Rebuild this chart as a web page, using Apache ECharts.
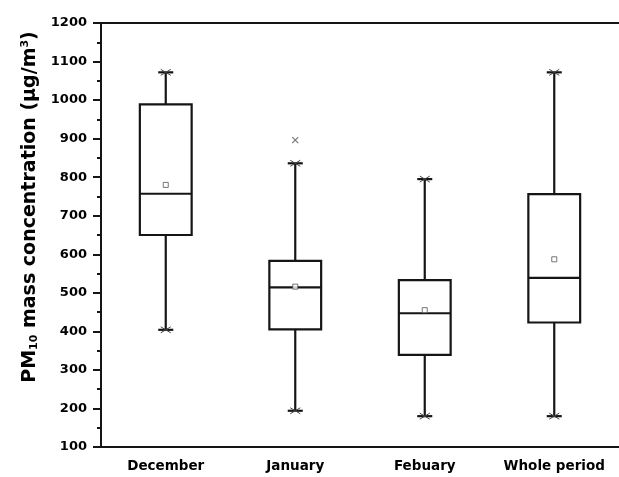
<!DOCTYPE html>
<html>
<head>
<meta charset="utf-8">
<script src="https://cdn.jsdelivr.net/npm/echarts@6/dist/echarts.min.js"></script>
<style>
  html, body { margin: 0; padding: 0; background: #fff; }
  #chart { width: 619px; height: 477px; }
</style>
</head>
<body>
<div id="chart"></div>
<script>
var categories = ["December", "January", "Febuary", "Whole period"];
var minVals = [404, 194, 180, 180];
var q1Vals = [650, 405, 339, 423];
var medianVals = [757, 514, 447, 539];
var q3Vals = [989, 583, 533, 756];
var maxVals = [1072, 836, 795, 1072];
var meanVals = [780, 516, 455, 587];
var outliers = [[1, 896]];

var ink = "#151515";
var font = "DejaVu Sans";

var boxData = categories.map(function(c, i) {
  return [i, minVals[i], q1Vals[i], medianVals[i], q3Vals[i], maxVals[i]];
});
var meanData = categories.map(function(c, i) {
  return [i, meanVals[i]];
});

function renderBox(params, api) {
  var i = api.value(0);
  var band = api.size([1, 0])[0];
  var half = band * 0.2;
  var cap = band * 0.058;
  var pMin = api.coord([i, api.value(1)]);
  var pQ1 = api.coord([i, api.value(2)]);
  var pMed = api.coord([i, api.value(3)]);
  var pQ3 = api.coord([i, api.value(4)]);
  var pMax = api.coord([i, api.value(5)]);
  var x = pMed[0];
  var strong = { stroke: ink, lineWidth: 2.2, fill: null };
  var thin = { stroke: "#444", lineWidth: 1 };
  function line(x1, y1, x2, y2, style) {
    return { type: "line", shape: { x1: x1, y1: y1, x2: x2, y2: y2 }, style: style };
  }
  function cross(y) {
    return [
      line(x - 5, y - 3, x + 5, y + 3, thin),
      line(x - 5, y + 3, x + 5, y - 3, thin)
    ];
  }
  var children = [
    { type: "rect", shape: { x: x - half, y: pQ3[1], width: half * 2, height: pQ1[1] - pQ3[1] }, style: strong },
    line(x - half, pMed[1], x + half, pMed[1], strong),
    line(x, pQ3[1], x, pMax[1], strong),
    line(x, pQ1[1], x, pMin[1], strong),
    line(x - cap, pMax[1], x + cap, pMax[1], strong),
    line(x - cap, pMin[1], x + cap, pMin[1], strong)
  ];
  children = children.concat(cross(pMax[1]), cross(pMin[1]));
  return { type: "group", children: children };
}

var chart = echarts.init(document.getElementById("chart"));

chart.setOption({
  animation: false,
  backgroundColor: "#fff",
  grid: { left: 101, top: 23, width: 527, height: 424 },
  xAxis: [
    {
      type: "category",
      data: categories,
      axisLine: { lineStyle: { color: ink, width: 2 } },
      axisTick: { alignWithLabel: true, length: 8, lineStyle: { color: ink, width: 2 } },
      axisLabel: { interval: 0, color: "#000", fontFamily: font, fontWeight: "bold", fontSize: 13.5, margin: 12 },
      splitLine: { show: false }
    },
    {
      type: "category",
      position: "top",
      data: categories,
      axisLine: { lineStyle: { color: ink, width: 2 } },
      axisTick: { show: false },
      axisLabel: { show: false }
    }
  ],
  yAxis: {
    type: "value",
    min: 100,
    max: 1200,
    interval: 100,
    name: "{b|PM}{sub|10}{b| mass concentration (μg/m}{sup|3}{b|)}",
    nameLocation: "middle",
    nameGap: 44,
    nameTextStyle: {
      padding: [0, 0, 0, 56],
      rich: {
        b: { fontFamily: font, fontWeight: "bold", fontSize: 19, color: "#000" },
        sub: { fontFamily: font, fontWeight: "bold", fontSize: 11, color: "#000", verticalAlign: "bottom", padding: [9, 0, 0, 0] },
        sup: { fontFamily: font, fontWeight: "bold", fontSize: 11, color: "#000", verticalAlign: "top", padding: [0, 0, 9, 0] }
      }
    },
    axisLine: { show: true, lineStyle: { color: ink, width: 2 } },
    axisTick: { show: true, length: 8, lineStyle: { color: ink, width: 2 } },
    minorTick: { show: true, splitNumber: 2, length: 4, lineStyle: { color: ink, width: 2 } },
    axisLabel: {
      color: "#000", fontFamily: font, fontWeight: "bold", fontSize: 13, margin: 14,
      formatter: function(v) { return String(v); }
    },
    splitLine: { show: false }
  },
  series: [
    {
      type: "custom",
      renderItem: renderBox,
      data: boxData,
      encode: { x: 0, y: [1, 2, 3, 4, 5] },
      z: 2
    },
    {
      type: "scatter",
      data: meanData,
      symbol: "rect",
      symbolSize: 5,
      itemStyle: { color: "#fff", borderColor: "#555", borderWidth: 1 },
      z: 3
    },
    {
      type: "scatter",
      data: outliers,
      symbol: "path://M0,0L10,10M10,0L0,10",
      symbolSize: 6,
      itemStyle: { color: "none", borderColor: "#555", borderWidth: 1.2 },
      z: 3
    }
  ]
});
</script>
</body>
</html>
